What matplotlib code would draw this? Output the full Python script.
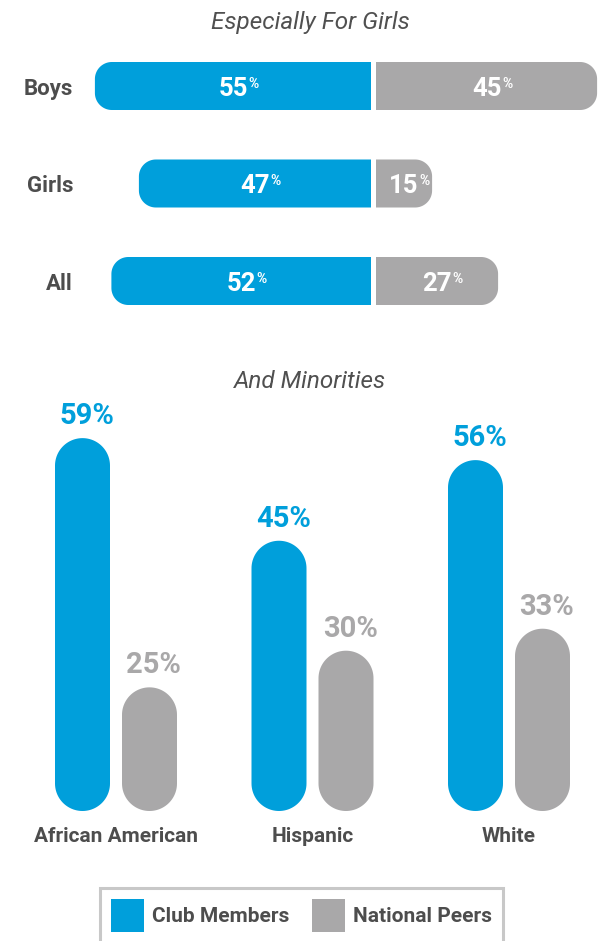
import numpy as np
import matplotlib.pyplot as plt
from matplotlib.patches import Polygon, Patch
from matplotlib import font_manager

# top panel: club members vs national peers, by sex
rows = ["Boys", "Girls", "All"]
club_rows = [55, 47, 52]
peers_rows = [45, 15, 27]

# bottom panel: by race / ethnicity
groups = ["African American", "Hispanic", "White"]
club_groups = [59, 45, 56]
peers_groups = [25, 30, 33]

legend_labels = ["Club Members", "National Peers"]

BLUE = "#009fdb"
GREY = "#a9a8a9"
TEXT = "#4d4d4d"
TITLE = "#505050"

names = {f.name for f in font_manager.fontManager.ttflist}
FONT = "Roboto" if "Roboto" in names else "DejaVu Sans"
plt.rcParams["font.family"] = [FONT, "DejaVu Sans"]

W, H = 602, 941
fig = plt.figure(figsize=(W / 100, H / 100), dpi=100)


def unit_sizes(ax):
    pos = ax.get_position()
    x0, x1 = ax.get_xlim()
    y0, y1 = ax.get_ylim()
    kx = abs(x1 - x0) / (pos.width * W)
    ky = abs(y1 - y0) / (pos.height * H)
    return kx, ky


def rounded_box(ax, x0, y0, w, h, r_px, color, corners=(1, 1, 1, 1)):
    # corners: bottom-left, bottom-right, top-right, top-left (in data y)
    kx, ky = unit_sizes(ax)
    rx, ry = r_px * kx, r_px * ky
    x1, y1 = x0 + w, y0 + h
    spec = [((x0, y0), (x0 + rx, y0 + ry), 180),
            ((x1, y0), (x1 - rx, y0 + ry), 270),
            ((x1, y1), (x1 - rx, y1 - ry), 0),
            ((x0, y1), (x0 + rx, y1 - ry), 90)]
    pts = []
    for flag, (corner, c, a0) in zip(corners, spec):
        if flag:
            t = np.radians(np.linspace(a0, a0 + 90, 24))
            pts.extend(zip(c[0] + rx * np.cos(t), c[1] + ry * np.sin(t)))
        else:
            pts.append(corner)
    ax.add_patch(Polygon(pts, closed=True, fc=color, ec="none"))


# ---------------- top: horizontal split bars ----------------
scale = 5.5      # px per point
offset = 4.8     # value at the centre line
centre = 373.5
gap = 2.5 / scale
row_step = 97.5

ax1 = fig.add_axes([80 / W, 1 - 330 / H, (602 - 80) / W, 290 / H])
ax1.set_xlim((80 - centre) / scale, (602 - centre) / scale)
ax1.set_ylim((330 - 86) / row_step, (40 - 86) / row_step)
for s in ax1.spines.values():
    s.set_visible(False)
ax1.set_xticks([])
y = np.arange(len(rows))
ax1.set_yticks(y, rows)
ax1.tick_params(axis="y", length=0, pad=5, labelsize=16, labelcolor=TEXT)
for t in ax1.get_yticklabels():
    t.set_fontweight("bold")

bar_h = 48 / row_step
r_top = 17

for i in y:
    lb = club_rows[i] - offset
    lp = peers_rows[i] - offset
    x_blue = -gap - lb
    rounded_box(ax1, x_blue, i - bar_h / 2, lb, bar_h, r_top, BLUE,
                corners=(1, 0, 0, 1))
    rounded_box(ax1, gap, i - bar_h / 2, lp, bar_h, r_top, GREY,
                corners=(0, 1, 1, 0))

    for xc, v in ((x_blue + lb / 2, club_rows[i]), (gap + lp / 2, peers_rows[i])):
        num = ax1.text(xc, i, f"{v}", ha="center", va="center_baseline",
                       fontsize=18.5, fontweight="bold", color="white")
        ax1.annotate("%", xy=(1, 1), xycoords=num, xytext=(0.5, 0),
                     textcoords="offset points", ha="left", va="top",
                     fontsize=10, fontweight="bold", color="white")

# ---------------- bottom: vertical pill bars ----------------
vscale = 7.33    # px per point
base = 8.13      # value at the bar bottoms
step = 196.5
first = 116

ax2 = fig.add_axes([0, 1 - 811 / H, 1, (811 - 340) / H])
ax2.set_xlim(-first / step, (W - first) / step)
ax2.set_ylim(base, base + (811 - 340) / vscale)
for s in ax2.spines.values():
    s.set_visible(False)
ax2.set_yticks([])
g = np.arange(len(groups))
ax2.set_xticks(g, groups)
ax2.tick_params(axis="x", length=0, pad=11.5, labelsize=15, labelcolor=TEXT)
for t in ax2.get_xticklabels():
    t.set_fontweight("bold")

shift = 33.5 / step
bw = 55 / step
for i in g:
    for xc, v, col in ((i - shift, club_groups[i], BLUE),
                       (i + shift, peers_groups[i], GREY)):
        rounded_box(ax2, xc - bw / 2, base, bw, v - base, 27.5, col)
        ax2.annotate(f"{v}%", (xc, v), xytext=(3, 10),
                     textcoords="offset points", ha="center", va="baseline",
                     fontsize=21, fontweight="bold", color=col)

# titles
fig.text(310 / W, 1 - 22 / H, "Especially For Girls", ha="center", va="center",
         fontsize=17.5, style="italic", color=TITLE)
fig.text(310 / W, 1 - 382 / H, "And Minorities", ha="center", va="center",
         fontsize=17.5, style="italic", color=TITLE)

# legend
handles = [Patch(fc=BLUE, ec="none"), Patch(fc=GREY, ec="none")]
leg = fig.legend(handles, legend_labels, loc="upper center",
                 bbox_to_anchor=(301.5 / W, 1 - 888 / H), ncol=2,
                 frameon=True, fancybox=False, edgecolor="#c8c8c8",
                 framealpha=1, borderaxespad=0,
                 prop={"weight": "bold", "size": 15},
                 handlelength=1.59, handleheight=2.06, handletextpad=0.38,
                 columnspacing=1.06, borderpad=0.53)
leg.get_frame().set_linewidth(2.2)
for t in leg.get_texts():
    t.set_color(TEXT)

fig.savefig("out.png", dpi=100)
